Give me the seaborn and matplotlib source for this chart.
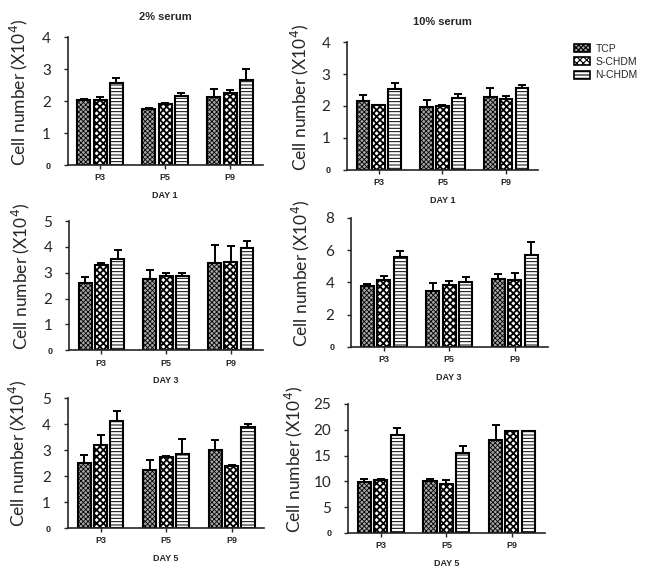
import numpy as np
import pandas as pd
import seaborn as sns
import matplotlib.pyplot as plt
from matplotlib.patches import Patch

passages = ['P3', 'P5', 'P9']
substrates = ['TCP', 'S-CHDM', 'N-CHDM']

# rows: TCP, S-CHDM, N-CHDM ; columns: P3, P5, P9  (cell number x10^4)
day1_2_mean = [[2.03, 1.74, 2.13], [2.03, 1.92, 2.25], [2.57, 2.15, 2.67]]
day1_2_err = [[0.05, 0.03, 0.26], [0.10, 0.02, 0.09], [0.15, 0.10, 0.32]]
day1_10_mean = [[2.16, 1.96, 2.27], [2.02, 1.99, 2.22], [2.53, 2.26, 2.57]]
day1_10_err = [[0.19, 0.23, 0.28], [0.02, 0.05, 0.08], [0.20, 0.12, 0.09]]
day3_2_mean = [[2.62, 2.76, 3.37], [3.29, 2.86, 3.43], [3.54, 2.89, 3.98]]
day3_2_err = [[0.20, 0.33, 0.70], [0.09, 0.14, 0.60], [0.33, 0.09, 0.25]]
day3_10_mean = [[3.80, 3.49, 4.22], [4.13, 3.82, 4.18], [5.58, 4.05, 5.72]]
day3_10_err = [[0.08, 0.46, 0.29], [0.27, 0.28, 0.38], [0.40, 0.32, 0.78]]
day5_2_mean = [[2.50, 2.22, 2.99], [3.21, 2.73, 2.38], [4.10, 2.86, 3.90]]
day5_2_err = [[0.30, 0.38, 0.40], [0.36, 0.05, 0.04], [0.41, 0.58, 0.10]]
day5_10_mean = [[9.8, 10.0, 18.1], [10.2, 9.4, 19.7], [18.9, 15.4, 19.7]]
day5_10_err = [[0.7, 0.4, 2.8], [0.3, 0.8, 0.0], [1.4, 1.4, 0.0]]

panels = [
    (day1_2_mean, day1_2_err, 4, [0, 1, 2, 3, 4], 'DAY 1', '2% serum', [0.105, 0.7135, 0.302, 0.222], -0.195),
    (day1_10_mean, day1_10_err, 4, [0, 1, 2, 3, 4], 'DAY 1', '10% serum', [0.538, 0.705, 0.296, 0.222], -0.19),
    (day3_2_mean, day3_2_err, 5, [0, 1, 2, 3, 4, 5], 'DAY 3', None, [0.107, 0.392, 0.301, 0.224], -0.19),
    (day3_10_mean, day3_10_err, 8, [0, 2, 4, 6, 8], 'DAY 3', None, [0.544, 0.3976, 0.305, 0.224], -0.198),
    (day5_2_mean, day5_2_err, 5, [0, 1, 2, 3, 4, 5], 'DAY 5', None, [0.105, 0.0833, 0.305, 0.2257], -0.195),
    (day5_10_mean, day5_10_err, 25, [0, 5, 10, 15, 20, 25], 'DAY 5', None, [0.5395, 0.0747, 0.305, 0.224], -0.22),
]

faces = {'TCP': '#a8a8a8', 'S-CHDM': 'white', 'N-CHDM': 'white'}
hatches = {'TCP': 'xxxxxxx', 'S-CHDM': 'xxxxx', 'N-CHDM': '-----'}
hatch_lw = {'TCP': 0.6, 'S-CHDM': 1.3, 'N-CHDM': 0.7}

sns.set_style('ticks')
plt.rcParams['hatch.linewidth'] = 0.8
bold = dict(family='Liberation Sans', weight='bold')


def style_patch(p, s):
    p.set_hatch(hatches[s])
    if hasattr(p, 'set_hatch_linewidth'):
        p.set_hatch_linewidth(hatch_lw[s])


fig = plt.figure(figsize=(6.45, 5.76), dpi=100)

for mean, err, ymax, yticks, xlab, title, rect, lab_x in panels:
    ax = fig.add_axes(rect)
    df = pd.DataFrame({
        'passage': np.tile(passages, 3),
        'substrate': np.repeat(substrates, 3),
        'value': np.ravel(mean),
    })
    sns.barplot(data=df, x='passage', y='value', hue='substrate', hue_order=substrates,
                palette=faces, errorbar=None, width=0.75, gap=0.2,
                edgecolor='black', linewidth=1.5, legend=False, ax=ax)
    for i, s in enumerate(substrates):
        for bar in ax.containers[i]:
            style_patch(bar, s)
        xs = [b.get_x() + b.get_width() / 2 for b in ax.containers[i]]
        hs = [b.get_height() for b in ax.containers[i]]
        ax.errorbar(xs, hs, yerr=[np.zeros(3), err[i]], fmt='none', ecolor='black',
                    elinewidth=1.4, capsize=3, capthick=1.4, zorder=1)
    ax.set_xlim(-0.5, 2.5)
    ax.set_ylim(0, ymax)
    ax.set_yticks(yticks)
    ax.set_yticklabels(['0'] + [str(t) for t in yticks[1:]], family='Lato', fontsize=11)
    ax.get_yticklabels()[0].set_fontproperties(dict(family='Liberation Sans', weight='bold', size=6.5))
    ax.set_xticks(range(3))
    ax.set_xticklabels(passages, fontsize=6.5, **bold)
    ax.tick_params(axis='y', length=3, width=1, pad=9)
    ax.tick_params(axis='x', length=3, width=1, pad=3)
    ax.set_xlabel(xlab, fontsize=6.5, labelpad=6, **bold)
    ax.set_ylabel('Cell number (X10$^4$)', family='Lato', fontsize=12.5)
    ax.yaxis.set_label_coords(lab_x, 0.57)
    for sp in ['left', 'bottom']:
        ax.spines[sp].set_linewidth(1.2)
    sns.despine(ax=ax)
    if title:
        ax.set_title(title, fontsize=8, pad=12, **bold)

handles = []
for s in substrates:
    h = Patch(facecolor=faces[s], edgecolor='black', linewidth=1.2, label=s)
    style_patch(h, s)
    handles.append(h)
fig.legend(handles=handles, loc='upper left', bbox_to_anchor=(0.875, 0.94), frameon=False,
           prop=dict(family='Liberation Sans', size=7.5), handlelength=1.6, handleheight=0.8,
           handletextpad=0.5, labelspacing=0.3)

fig.savefig('out.png', dpi=100, facecolor='white')
